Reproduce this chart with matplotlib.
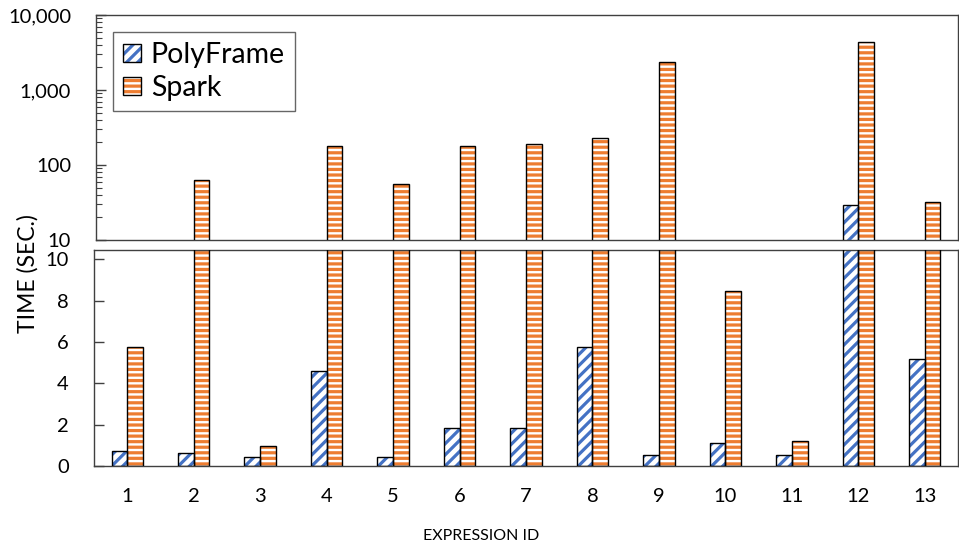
import matplotlib
matplotlib.use("Agg")
import matplotlib.pyplot as plt
import numpy as np
from matplotlib.patches import Patch
from matplotlib.ticker import LogLocator, FixedLocator, NullFormatter, FuncFormatter

# Execution time per expression (seconds)
expression_ids = ["1", "2", "3", "4", "5", "6", "7", "8", "9", "10", "11", "12", "13"]
polyframe = [0.74, 0.61, 0.45, 4.58, 0.45, 1.85, 1.85, 5.77, 0.52, 1.13, 0.52, 29.6, 5.19]
spark = [5.77, 62.5, 0.97, 179, 55.8, 179, 190, 231, 2380, 8.48, 1.19, 4400, 32.4]
series_names = ["PolyFrame", "Spark"]

BLUE = "#4472C4"
ORANGE = "#ED7D31"
SPINE = "#404040"

plt.rcParams["font.family"] = ["Lato", "DejaVu Sans"]
plt.rcParams["hatch.linewidth"] = 2.3

W, H = 959, 544
fig = plt.figure(figsize=(W / 100, H / 100), dpi=100)

def frac_box(x0, y0, x1, y1):
    return [x0 / W, 1 - y1 / H, (x1 - x0) / W, (y1 - y0) / H]

ax_top = fig.add_axes(frac_box(96, 15, 958, 240))
ax_bot = fig.add_axes(frac_box(94, 250, 958, 466))

x = np.arange(len(expression_ids))
bw = 0.236
PF_HATCH = "///"
SP_HATCH = "---"

def draw_bars(ax):
    # hatched fill layer, then a black outline layer on top
    ax.bar(x - bw / 2, polyframe, bw, color="white", edgecolor=BLUE, hatch=PF_HATCH, linewidth=0, zorder=2)
    ax.bar(x + bw / 2, spark, bw, color="white", edgecolor=ORANGE, hatch=SP_HATCH, linewidth=0, zorder=2)
    ax.bar(x - bw / 2, polyframe, bw, facecolor="none", edgecolor="black", linewidth=1.0, zorder=3)
    ax.bar(x + bw / 2, spark, bw, facecolor="none", edgecolor="black", linewidth=1.0, zorder=3)

draw_bars(ax_top)
draw_bars(ax_bot)

# Upper panel: log scale for the long-running expressions
ax_top.set_yscale("log")
ax_top.set_ylim(10, 10000)
shift = (96 - 94) / ((958 - 94) / 13.0)
ax_top.set_xlim(-0.5 + shift, 12.5)
ax_top.yaxis.set_major_locator(FixedLocator([10, 100, 1000, 10000]))
ax_top.yaxis.set_minor_locator(LogLocator(base=10, subs=np.arange(2, 10)))
ax_top.yaxis.set_minor_formatter(NullFormatter())
ax_top.yaxis.set_major_formatter(FuncFormatter(lambda v, p: f"{int(round(v)):,}"))
ax_top.set_xticks([])
ax_top.tick_params(axis="y", which="major", direction="in", length=7, width=1, pad=18,
                   labelsize=14.5, color=SPINE)
ax_top.tick_params(axis="y", which="minor", direction="in", length=4, width=0.8, color=SPINE)

# Lower panel: linear scale for the short ones
ax_bot.set_ylim(0, 10.45)
ax_bot.set_xlim(-0.5, 12.5)
ax_bot.set_yticks([0, 2, 4, 6, 8, 10])
ax_bot.set_xticks(x)
ax_bot.set_xticklabels(expression_ids)
ax_bot.tick_params(axis="y", direction="in", length=7, width=1, pad=18, labelsize=14.5, color=SPINE)
ax_bot.tick_params(axis="x", length=0, pad=16, labelsize=14.5)

for ax in (ax_top, ax_bot):
    for s in ax.spines.values():
        s.set_color(SPINE)
        s.set_linewidth(1.0)

fig.text(27.5 / W, 1 - 274 / H, "TIME (SEC.)", rotation=90, ha="center", va="center", fontsize=16.5)
fig.text(481 / W, 1 - 536 / H, "EXPRESSION ID", ha="center", va="center", fontsize=11.5)

handles = [
    (Patch(facecolor="white", edgecolor=BLUE, hatch=PF_HATCH, linewidth=0),
     Patch(facecolor="none", edgecolor="black", linewidth=1.0)),
    (Patch(facecolor="white", edgecolor=ORANGE, hatch=SP_HATCH, linewidth=0),
     Patch(facecolor="none", edgecolor="black", linewidth=1.0)),
]
leg = ax_top.legend(handles, series_names, loc="upper left", bbox_to_anchor=(0.0197, 0.924),
                    borderaxespad=0, fontsize=20.5, frameon=True, fancybox=False,
                    handlelength=0.63, handleheight=0.63, handletextpad=0.35,
                    labelspacing=0.25, borderpad=0.35)
leg.get_frame().set_edgecolor(SPINE)
leg.get_frame().set_linewidth(1.0)

fig.savefig("out.png", dpi=100)
